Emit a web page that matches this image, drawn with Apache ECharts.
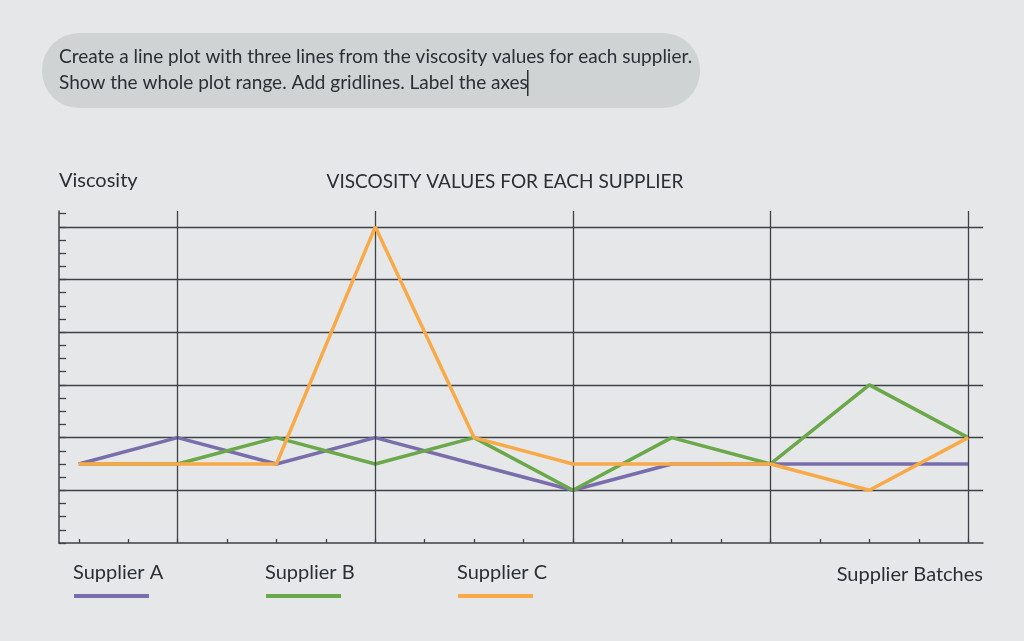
<!DOCTYPE html>
<html>
<head>
<meta charset="utf-8">
<script src="https://cdn.jsdelivr.net/npm/echarts@6/dist/echarts.min.js"></script>
<style>
html,body{margin:0;padding:0;background:#e6e7e9;}
#chart{width:1024px;height:641px;}
</style>
</head>
<body>
<div id="chart"></div>
<script>
const batches = [0, 1, 2, 3, 4, 5, 6, 7, 8, 9];
const supplierA = [1.5, 2, 1.5, 2, 1.5, 1, 1.5, 1.5, 1.5, 1.5];
const supplierB = [1.5, 1.5, 2, 1.5, 2, 1, 2, 1.5, 3, 2];
const supplierC = [1.5, 1.5, 1.5, 6, 2, 1.5, 1.5, 1.5, 1, 2];
const seriesNames = ['Supplier A', 'Supplier B', 'Supplier C'];
const seriesColors = ['#7a6dab', '#6aa84a', '#f9aa48'];
const verticalGrid = [1, 3, 5, 7, 9];
const xTicks = [0, 0.5, 1, 1.5, 2, 2.5, 3, 3.5, 4, 4.5, 5, 5.5, 6, 6.5, 7, 7.5, 8, 8.5, 9];
const yTicks = [0, 0.25, 0.5, 0.75, 1, 1.25, 1.5, 1.75, 2, 2.25, 2.5, 2.75, 3, 3.25, 3.5, 3.75, 4, 4.25, 4.5, 4.75, 5, 5.25, 5.5, 5.75, 6, 6.25];
const promptLines = ['Create a line plot with three lines from the viscosity values for each supplier.', 'Show the whole plot range. Add gridlines. Label the axes'];

const FONT = 'Lato';
const dataSets = [supplierA, supplierB, supplierC];
const chart = echarts.init(document.getElementById('chart'), null, {renderer: 'canvas'});

const series = dataSets.map((d, i) => ({
  name: seriesNames[i],
  type: 'line',
  yAxisIndex: 0,
  data: batches.map((b, k) => [b, d[k]]),
  symbol: 'none',
  lineStyle: {color: seriesColors[i], width: 3.5},
  z: 3 + i,
  silent: true,
  markLine: i === 0 ? {
    silent: true,
    symbol: ['none', 'none'],
    label: {show: false},
    lineStyle: {color: '#3d4247', width: 1.3, type: 'solid'},
    data: verticalGrid.map(v => ({xAxis: v}))
  } : undefined
}));

const graphic = [
  {type: 'rect', shape: {x: 42, y: 33, width: 658, height: 75, r: 37}, style: {fill: '#d0d3d4'}, z: 0},
  {type: 'text', left: 59, top: 47, style: {text: promptLines[0], font: '19px ' + FONT, fill: '#2a2f33'}},
  {type: 'text', left: 59, top: 73, style: {text: promptLines[1], font: '19px ' + FONT, fill: '#2a2f33'}},
  {type: 'rect', shape: {x: 527, y: 70, width: 1.5, height: 26}, style: {fill: '#2a2f33'}}
];
const legendX = [73, 265, 457];
seriesNames.forEach((n, i) => {
  graphic.push({type: 'text', left: legendX[i], top: 563, style: {text: n, font: '20px ' + FONT, fill: '#2a2f33'}});
  graphic.push({type: 'rect', shape: {x: legendX[i] + 1, y: 594, width: 75, height: 4}, style: {fill: seriesColors[i]}});
});

const yBase = {type: 'value', min: 0, max: 6.3, axisLabel: {show: false}};

chart.setOption({
  backgroundColor: '#e6e7e9',
  animation: false,
  title: {
    text: 'VISCOSITY VALUES FOR EACH SUPPLIER',
    left: 500, textAlign: 'center', top: 167,
    textStyle: {fontFamily: FONT, fontSize: 19, fontWeight: 'normal', color: '#2a2f33'}
  },
  grid: {left: 59, right: 41, top: 211, bottom: 98, containLabel: false},
  xAxis: {
    type: 'value', min: -0.2, max: 9.15,
    name: 'Supplier Batches', nameLocation: 'end', nameGap: 0,
    nameTextStyle: {fontFamily: FONT, fontSize: 20, color: '#2a2f33', align: 'right', verticalAlign: 'top', padding: [22, 0, 0, 0]},
    axisLine: {show: true, onZero: false, lineStyle: {color: '#3d4247', width: 1.5}},
    axisTick: {show: true, inside: true, length: 4, customValues: xTicks, lineStyle: {color: '#3d4247', width: 1.3}},
    axisLabel: {show: false},
    splitLine: {show: false}
  },
  yAxis: [
    Object.assign({}, yBase, {
      name: 'Viscosity', nameLocation: 'end', nameGap: 30,
      nameTextStyle: {fontFamily: FONT, fontSize: 20, color: '#2a2f33', align: 'left', verticalAlign: 'middle'},
      axisLine: {show: true, onZero: false, lineStyle: {color: '#3d4247', width: 1.5}},
      axisTick: {show: true, inside: true, length: 7, customValues: yTicks, lineStyle: {color: '#3d4247', width: 1.3}},
      splitLine: {show: false}
    }),
    Object.assign({}, yBase, {
      interval: 1,
      position: 'left',
      axisLine: {show: false, onZero: false},
      axisTick: {show: false},
      splitLine: {show: true, showMinLine: false, showMaxLine: false, lineStyle: {color: '#3d4247', width: 1.3}}
    })
  ],
  graphic: graphic,
  series: series
});
</script>
</body>
</html>
